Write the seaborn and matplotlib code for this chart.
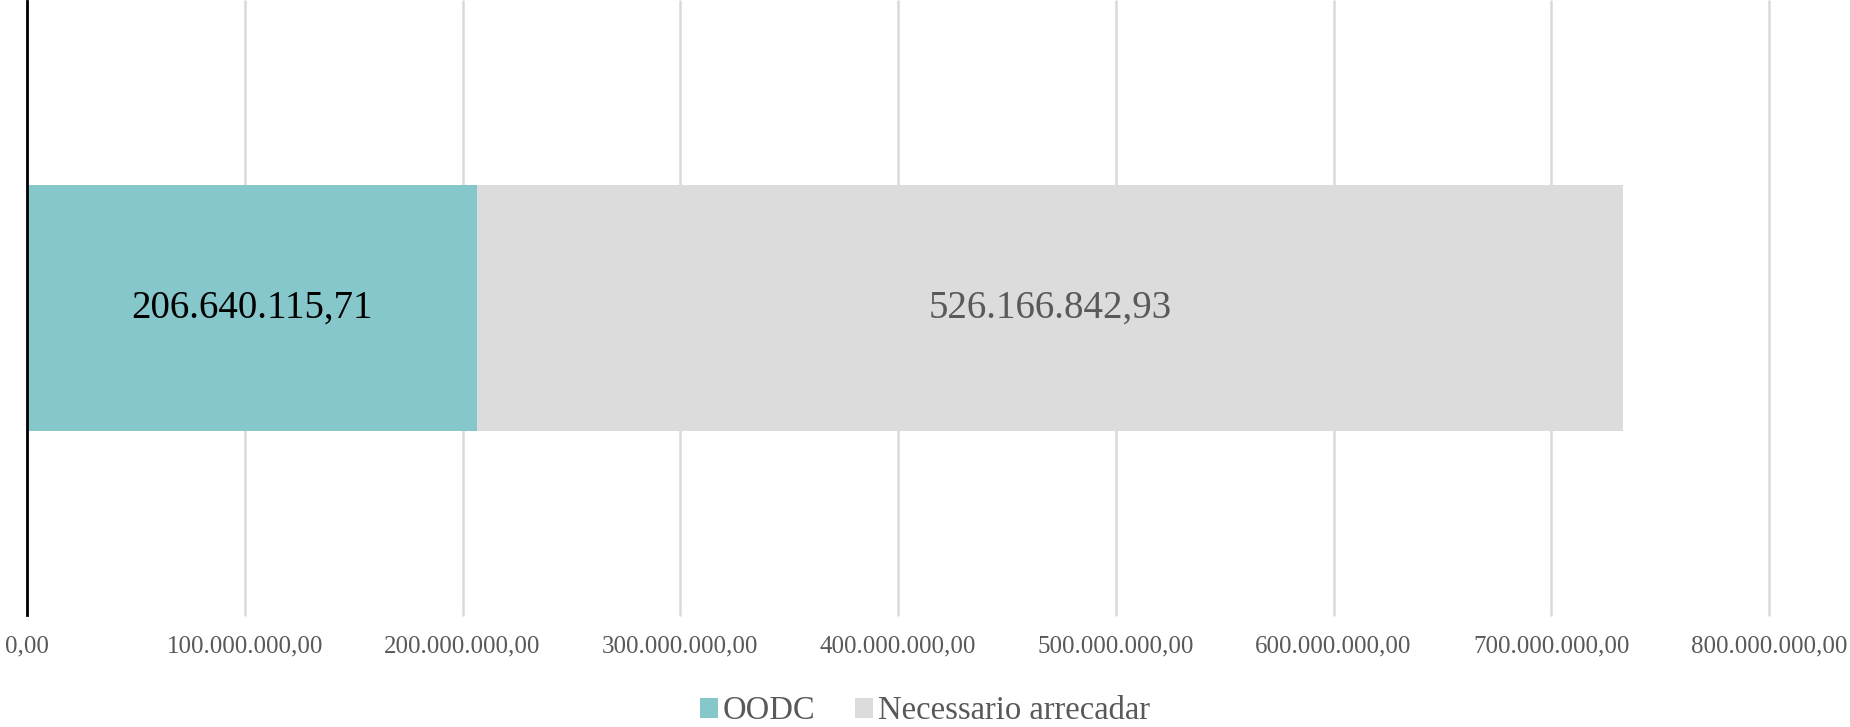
import matplotlib
matplotlib.use("Agg")
import matplotlib.pyplot as plt
import seaborn as sns
import pandas as pd
from matplotlib.patches import Patch

categories = ["Total"]
oodc = [206640115.71]
necessario = [526166842.93]
series_names = ["OODC", "Necessario arrecadar"]
data_labels = ["206.640.115,71", "526.166.842,93"]
xticks = [0, 100e6, 200e6, 300e6, 400e6, 500e6, 600e6, 700e6, 800e6]
xtick_labels = ["0,00", "100.000.000,00", "200.000.000,00", "300.000.000,00",
                "400.000.000,00", "500.000.000,00", "600.000.000,00",
                "700.000.000,00", "800.000.000,00"]

teal = "#86C7CB"
gray = "#DCDCDC"

sns.set_theme(style="white")
plt.rcParams['font.family'] = ['Liberation Serif', 'DejaVu Serif', 'DejaVu Sans']

fig = plt.figure(figsize=(18.5, 7.27), dpi=100)
ax = fig.add_axes([27/1850, 1 - 615/727, (1769-27)/1850, 614/727])

df = pd.DataFrame({"cat": categories,
                   "oodc": oodc,
                   "total": [a + b for a, b in zip(oodc, necessario)]})

sns.barplot(data=df, y="cat", x="total", color=gray, orient="h",
            width=0.4, ax=ax, saturation=1, edgecolor="none", zorder=2)
sns.barplot(data=df, y="cat", x="oodc", color=teal, orient="h",
            width=0.4, ax=ax, saturation=1, edgecolor="none", zorder=3)

ax.set_xlim(0, 800e6)
ax.set_ylim(0.5, -0.5)
ax.set_xticks(xticks)
ax.set_xticklabels(xtick_labels, fontsize=18, color="#595959")
ax.tick_params(axis="x", length=0, pad=15)
ax.set_yticks([])
ax.set_xlabel("")
ax.set_ylabel("")
ax.grid(axis="x", color="#D9D9D9", linewidth=1.8, zorder=0)
for gl in ax.get_xgridlines():
    gl.set_clip_on(False)
ax.set_axisbelow(True)
for s in ["top", "right", "bottom"]:
    ax.spines[s].set_visible(False)
ax.spines["left"].set_color("black")
ax.spines["left"].set_linewidth(2)
ax.spines["left"].set_zorder(5)

# data labels centred in each segment
ax.text(oodc[0] / 2, 0, data_labels[0], ha="center", va="center",
        fontsize=28, color="black", zorder=6)
ax.text(oodc[0] + necessario[0] / 2, 0, data_labels[1], ha="center",
        va="center", fontsize=28, color="#595959", zorder=6)

handles = [Patch(facecolor=teal, edgecolor="none", label=series_names[0]),
           Patch(facecolor=gray, edgecolor="none", label=series_names[1])]
fig.legend(handles=handles, loc="center", bbox_to_anchor=(0.5, 1 - 711/727),
           ncol=2, frameon=False, fontsize=23.5, labelcolor="#595959",
           handlelength=0.55, handleheight=0.55, handletextpad=0.15,
           columnspacing=1.2, borderpad=0)

fig.savefig("out.png", dpi=100)
